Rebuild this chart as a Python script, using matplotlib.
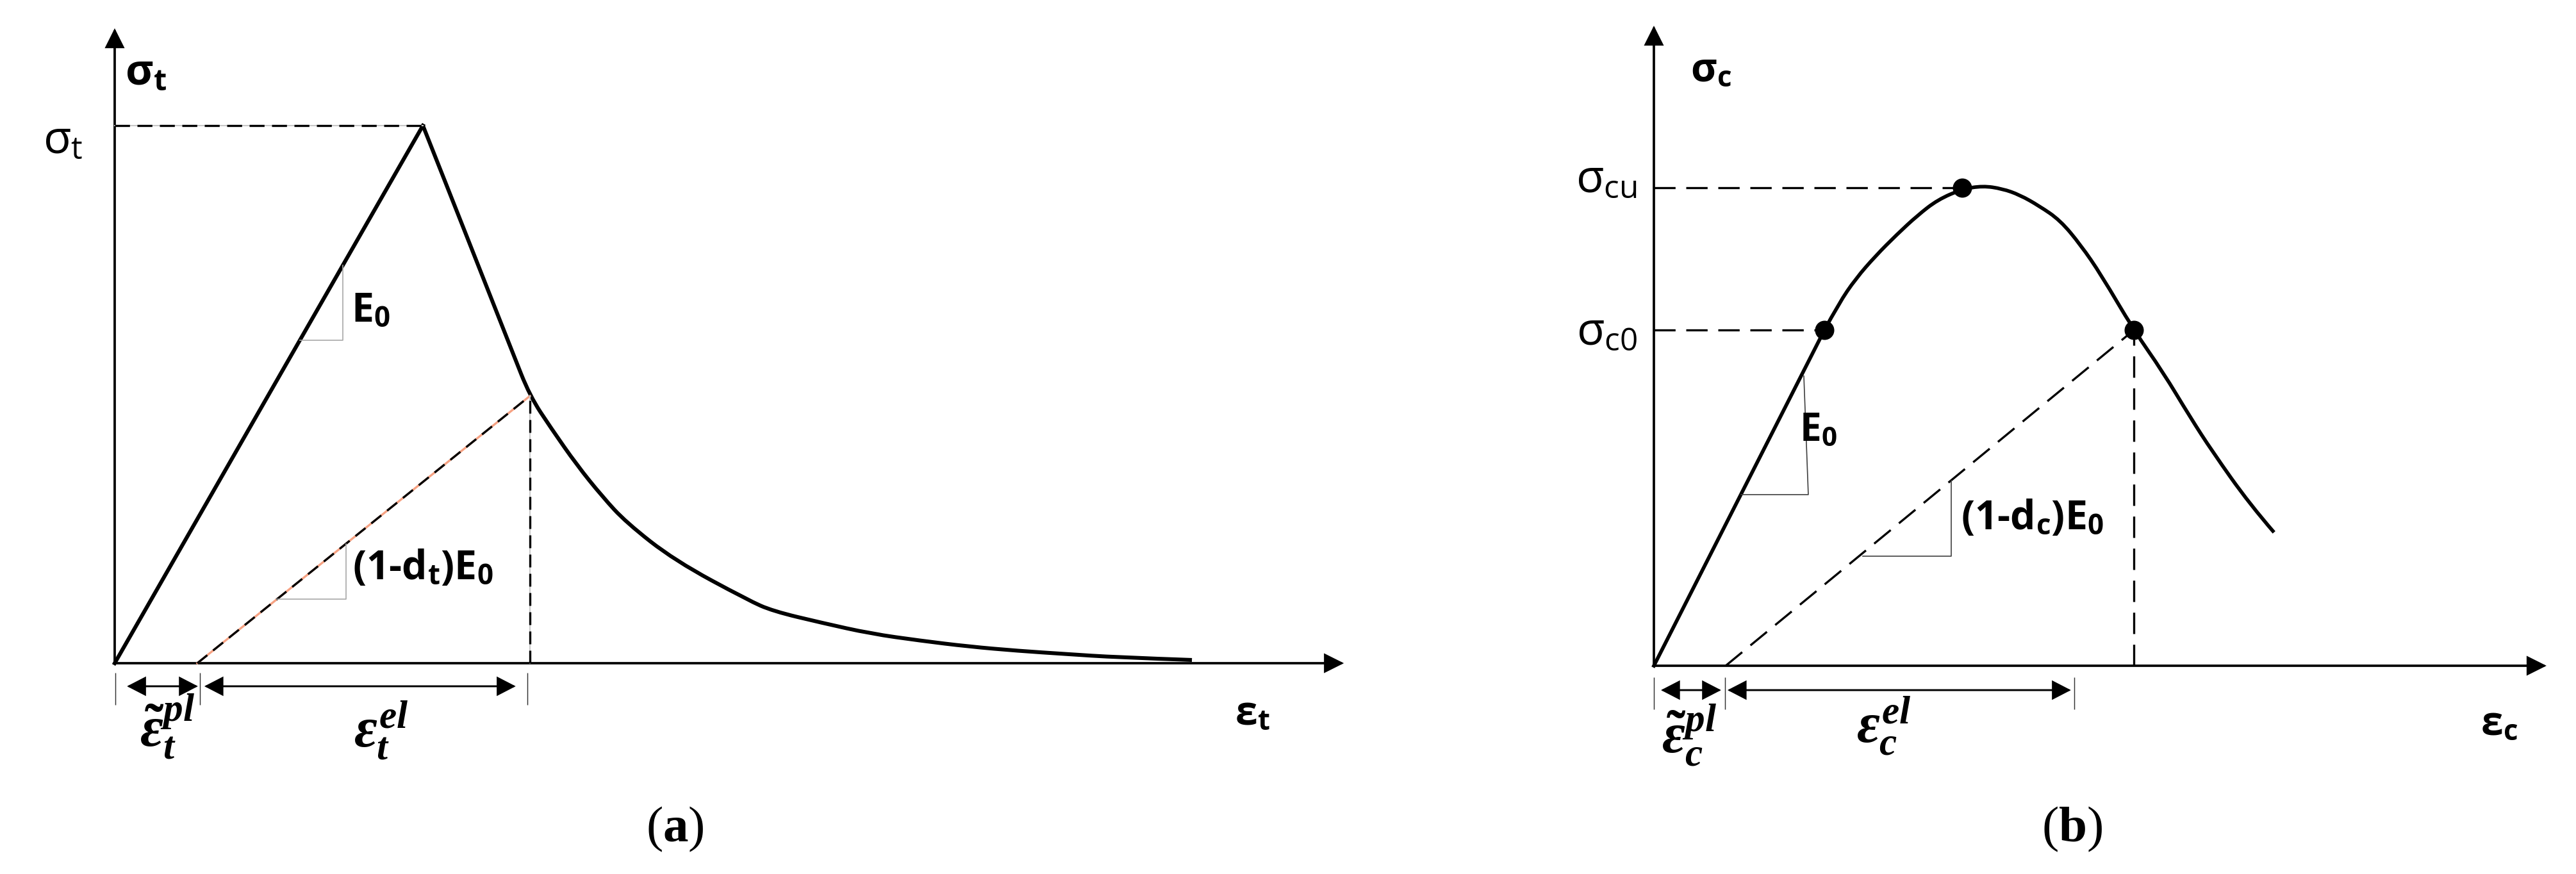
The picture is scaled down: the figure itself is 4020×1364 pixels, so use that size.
import matplotlib
matplotlib.use("Agg")
import matplotlib.pyplot as plt
from matplotlib.patches import FancyArrowPatch, PathPatch
from matplotlib.path import Path

plt.rcParams['mathtext.fontset'] = 'custom'
plt.rcParams['mathtext.it'] = 'Liberation Serif:italic:bold'
plt.rcParams['mathtext.rm'] = 'Liberation Serif:bold'
plt.rcParams['mathtext.bf'] = 'Liberation Serif:bold'

# ---------------- data (normalised strain / stress) ----------------
# (a) tension
t_load_eps = [0.0, 1.0]
t_load_sig = [0.0, 1.0]
t_soft_eps = [1.0, 1.083, 1.187, 1.291, 1.347, 1.416, 1.499, 1.582, 1.659, 1.817,
              2.056, 2.135, 2.295, 2.453, 2.613, 2.771, 2.931, 3.089, 3.249, 3.495]
t_soft_sig = [1.0, 0.880, 0.729, 0.578, 0.497, 0.437, 0.369, 0.310, 0.262, 0.191,
              0.117, 0.097, 0.075, 0.055, 0.042, 0.031, 0.023, 0.017, 0.011, 0.006]
t_eps_pl = 0.268
t_unload_eps = [t_eps_pl, 1.347]
t_unload_sig = [0.0, 0.497]
t_tri_E0_eps = [0.601, 0.740, 0.740]
t_tri_E0_sig = [0.601, 0.601, 0.740]
t_tri_Ed_eps = [0.526, 0.751, 0.751]
t_tri_Ed_sig = [0.119, 0.119, 0.222]

# (b) compression
c_load_eps = [0.0, 0.553]
c_load_sig = [0.0, 0.702]
c_curve_eps = [0.553, 0.600, 0.655, 0.720, 0.788, 0.855, 0.921, 1.000, 1.067,
               1.130, 1.187, 1.250, 1.318, 1.385, 1.451, 1.557, 1.651, 1.740, 1.811,
               1.933, 2.012]
c_curve_sig = [0.702, 0.758, 0.810, 0.858, 0.902, 0.942, 0.975, 0.997, 1.004,
               0.998, 0.985, 0.962, 0.932, 0.880, 0.818, 0.702, 0.615, 0.520, 0.449,
               0.338, 0.279]
c_dot_eps = [0.553, 1.0, 1.557]
c_dot_sig = [0.702, 1.0, 0.702]
c_eps_pl = 0.233
c_unload_eps = [c_eps_pl, 1.557]
c_unload_sig = [0.0, 0.702]
c_tri_E0_eps = [0.283, 0.501, 0.4865]
c_tri_E0_sig = [0.358, 0.358, 0.606]
c_tri_Ed_eps = [0.678, 0.965, 0.965]
c_tri_Ed_sig = [0.229, 0.229, 0.387]

SANS = ['Open Sans', 'DejaVu Sans']

fig = plt.figure(figsize=(13.4, 1364 / 300), dpi=300)
axL = fig.add_axes([0, 0, 0.5, 1])
axR = fig.add_axes([0.5, 0, 0.5, 1])
axL.set_xlim(-0.3721, 3.8067); axL.set_ylim(-0.3921, 1.2336)
axR.set_xlim(-1.1871, 2.9917); axR.set_ylim(-0.4357, 1.3928)
for ax in (axL, axR):
    ax.axis('off')


def arrow(ax, p0, p1, style='-|>', lw=0.9, hl=6.0, hw=3.0):
    ax.add_patch(FancyArrowPatch(p0, p1,
                                 arrowstyle=f'{style},head_length={hl},head_width={hw}',
                                 mutation_scale=1, lw=lw, color='k',
                                 shrinkA=0, shrinkB=0, joinstyle='miter',
                                 clip_on=False))


def tick(ax, x, y0, y1):
    ax.plot([x, x], [y0, y1], color='#333333', lw=0.35, solid_capstyle='butt',
            clip_on=False)


def smooth_curve(ax, xs, ys, lw):
    """Draw a smooth curve using the read points as quadratic Bezier controls."""
    pts = list(zip(xs, ys))
    verts = [pts[0]]
    codes = [Path.MOVETO]
    for i in range(1, len(pts) - 1):
        mid = ((pts[i][0] + pts[i + 1][0]) / 2, (pts[i][1] + pts[i + 1][1]) / 2)
        end = mid if i < len(pts) - 2 else pts[-1]
        verts += [pts[i], end]
        codes += [Path.CURVE3, Path.CURVE3]
    ax.add_patch(PathPatch(Path(verts, codes), fill=False, lw=lw, ec='k',
                           capstyle='butt', joinstyle='round', clip_on=False))


# ================= (a) =================
ax = axL
arrow(ax, (0, 0), (0, 1.181))
arrow(ax, (0, 0), (3.988, 0))
ax.plot(t_load_eps, t_load_sig, color='k', lw=1.45, solid_joinstyle='miter')
smooth_curve(ax, t_soft_eps, t_soft_sig, 1.45)
# peak dashed line
ax.plot([0, 1.0], [1.0, 1.0], color='#c8c8c8', lw=0.5)
ax.plot([0, 1.0], [1.0, 1.0], color='k', lw=0.8, ls=(0, (7, 3.5)))
# unloading line (orange under black dashes)
ax.plot(t_unload_eps, t_unload_sig, color='#f6a283', lw=0.8)
ax.plot(t_unload_eps, t_unload_sig, color='k', lw=0.8, ls=(0, (6, 3.5)))
# vertical dashed
ax.plot([t_unload_eps[1]] * 2, [0, t_unload_sig[1]], color='#c8c8c8', lw=0.5)
ax.plot([t_unload_eps[1]] * 2, [0, t_unload_sig[1]], color='k', lw=0.8, ls=(0, (6, 3)))
# slope triangles
ax.plot(t_tri_E0_eps, t_tri_E0_sig, color='#a8a8a8', lw=0.4)
ax.plot(t_tri_Ed_eps, t_tri_Ed_sig, color='#a8a8a8', lw=0.4)
# labels
ax.text(0.033, 1.097, r'σ$_\mathregular{t}$', fontsize=16, fontweight='bold',
        family=SANS, ha='left', va='center')
ax.text(-0.104, 0.971, r'σ$_\mathregular{t}$', fontsize=17, family=SANS,
        ha='right', va='center')
ax.text(0.767, 0.654, r'E$_\mathregular{0}$', fontsize=15, fontweight='bold',
        family=SANS, ha='left', va='center')
ax.text(0.771, 0.176, r'(1-d$_\mathregular{t}$)E$_\mathregular{0}$', fontsize=15,
        fontweight='bold', family=SANS, ha='left', va='center')
ax.text(3.692, -0.095, r'ε$_\mathregular{t}$', fontsize=15, fontweight='bold',
        family=SANS, ha='center', va='center')
# dimension arrows
tick(ax, 0.002, -0.018, -0.077)
tick(ax, 0.2765, -0.018, -0.077)
tick(ax, 1.339, -0.018, -0.077)
arrow(ax, (0.040, -0.0429), (0.270, -0.0429), style='<|-|>', lw=0.7, hl=6.0, hw=3.1)
arrow(ax, (0.291, -0.0429), (1.301, -0.0429), style='<|-|>', lw=0.7, hl=6.0, hw=3.1)
ax.text(0.17, -0.118, r'$\tilde{\varepsilon}_t^{pl}$', fontsize=21, ha='center', va='center')
ax.text(0.865, -0.124, r'$\varepsilon_t^{el}$', fontsize=21, ha='center', va='center')
ax.text(1.817, -0.309, r'($\mathbf{a}$)', fontsize=19, family='Liberation Serif',
        ha='center', va='center')

# ================= (b) =================
ax = axR
arrow(ax, (0, 0), (0, 1.339))
arrow(ax, (0, 0), (2.896, 0))
ax.plot(c_load_eps, c_load_sig, color='k', lw=1.35)
smooth_curve(ax, c_curve_eps, c_curve_sig, 1.35)
dash_b = (0, (10, 5))
ax.plot([0, c_dot_eps[1]], [c_dot_sig[1]] * 2, color='k', lw=0.8, ls=dash_b)
ax.plot([0, c_dot_eps[0]], [c_dot_sig[0]] * 2, color='k', lw=0.8, ls=dash_b)
ax.plot(c_unload_eps, c_unload_sig, color='k', lw=0.8, ls=dash_b)
ax.plot([c_dot_eps[2]] * 2, [0, c_dot_sig[2]], color='k', lw=0.8, ls=dash_b)
ax.plot(c_dot_eps, c_dot_sig, 'o', color='k', ms=6.2, zorder=5)
ax.plot(c_tri_E0_eps, c_tri_E0_sig, color='#404040', lw=0.4)
ax.plot(c_tri_Ed_eps, c_tri_Ed_sig, color='#404040', lw=0.4)
ax.text(0.1185, 1.244, r'σ$_\mathregular{c}$', fontsize=15, fontweight='bold',
        family=SANS, ha='left', va='center')
ax.text(-0.054, 1.016, r'σ$_\mathregular{cu}$', fontsize=17, family=SANS,
        ha='right', va='center')
ax.text(-0.054, 0.697, r'σ$_\mathregular{c0}$', fontsize=17, family=SANS,
        ha='right', va='center')
ax.text(0.534, 0.491, r'E$_\mathregular{0}$', fontsize=14.5, fontweight='bold',
        family=SANS, ha='center', va='center')
ax.text(0.996, 0.308, r'(1-d$_\mathregular{c}$)E$_\mathregular{0}$', fontsize=15,
        fontweight='bold', family=SANS, ha='left', va='center')
ax.text(2.742, -0.123, r'ε$_\mathregular{c}$', fontsize=15, fontweight='bold',
        family=SANS, ha='center', va='center')
tick(ax, 0.0, -0.024, -0.091)
tick(ax, 0.231, -0.024, -0.091)
tick(ax, 1.364, -0.024, -0.091)
arrow(ax, (0.023, -0.051), (0.218, -0.051), style='<|-|>', lw=0.7, hl=6.0, hw=3.1)
arrow(ax, (0.239, -0.051), (1.353, -0.051), style='<|-|>', lw=0.7, hl=6.0, hw=3.1)
ax.text(0.115, -0.145, r'$\tilde{\varepsilon}_c^{pl}$', fontsize=21, ha='center', va='center')
ax.text(0.746, -0.126, r'$\varepsilon_c^{el}$', fontsize=21, ha='center', va='center')
ax.text(1.356, -0.342, r'($\mathbf{b}$)', fontsize=19, family='Liberation Serif',
        ha='center', va='center')

fig.savefig('out.png', dpi=300, facecolor='white')
